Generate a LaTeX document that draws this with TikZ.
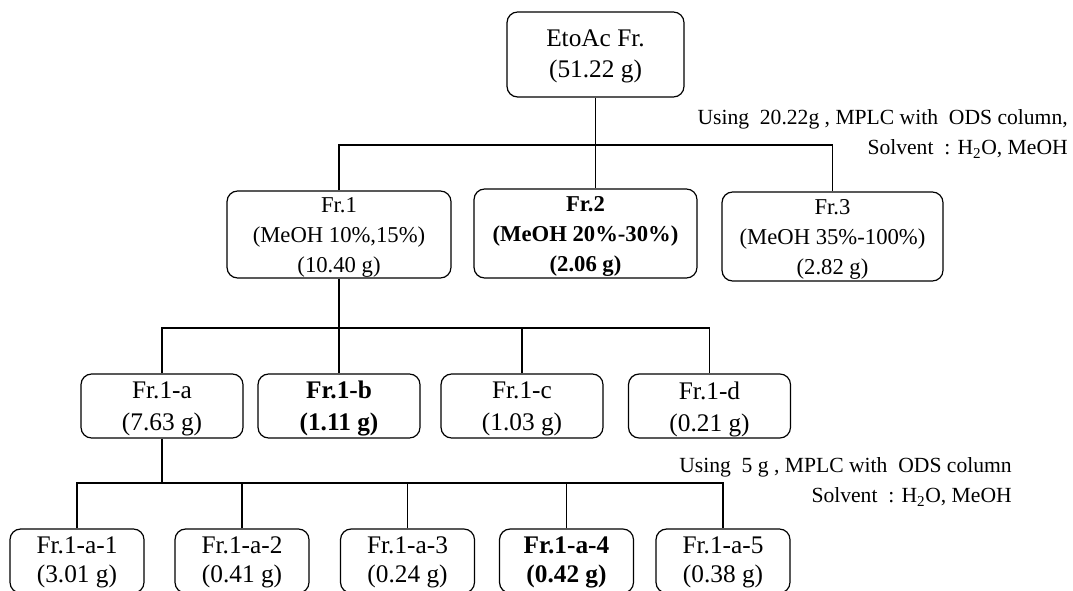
\documentclass[tikz,border=0pt]{standalone}
\usepackage{fontspec}
\setmainfont{Liberation Serif}
\begin{document}
\begin{tikzpicture}[x=0.75pt,y=-0.75pt,
  box/.style={draw, rounded corners=8pt, line width=0.9pt, inner sep=0pt},
  lvltwo/.style={box, minimum width=223*0.75pt, minimum height=88*0.75pt},
  lvlthree/.style={box, minimum width=162*0.75pt, minimum height=64*0.75pt},
  lvlfour/.style={box, minimum width=134*0.75pt, minimum height=64*0.75pt},
  txttop/.style={align=center, inner sep=0pt, font=\fontsize{19}{23.25}\selectfont},
  txttwo/.style={align=center, inner sep=0pt, font=\fontsize{17}{22.5}\selectfont},
  txtthree/.style={align=center, inner sep=0pt, font=\fontsize{19}{24}\selectfont},
  txtfour/.style={align=center, inner sep=0pt, font=\fontsize{19}{21.75}\selectfont},
  note/.style={anchor=east, inner sep=0pt, font=\fontsize{16.2}{20}\selectfont},
  conn/.style={line width=0.8pt}]
\useasboundingbox (0,0) rectangle (1073,591);
\clip (0,0) rectangle (1073,591);
\fill[white] (0,0) rectangle (1073,591);

% top
\node[box, minimum width=177*0.75pt, minimum height=85*0.75pt] (etoac) at (595.5,54.5) {};
\node[txttop] (etoacT) at (595.5,56.5) {EtoAc Fr.\\(51.22 g)};

\node[note] (noteA) at (1068,119) {Using\ \ 20.22g , MPLC with\ \ ODS column,};
\node[note] (noteB) at (1068,149) {Solvent\ \ : H\textsubscript{2}O, MeOH};

% level 2
\node[lvltwo, minimum width=224*0.75pt, minimum height=87*0.75pt] (fr1) at (339,234.5) {};
\node[txttwo] (fr1T) at (339,237) {Fr.1\\(MeOH 10\%,15\%)\\(10.40 g)};
\node[lvltwo, minimum height=89*0.75pt] (fr2) at (585.5,233.5) {};
\node[txttwo, font=\fontsize{17}{22.5}\selectfont\bfseries] (fr2T) at (585.5,236) {Fr.2\\(MeOH 20\%-30\%)\\(2.06 g)};
\node[lvltwo, minimum width=221*0.75pt, minimum height=89*0.75pt] (fr3) at (832.5,236.5) {};
\node[txttwo] (fr3T) at (832.5,239) {Fr.3\\(MeOH 35\%-100\%)\\(2.82 g)};

\coordinate (bus1) at (595.5,145);
\draw[conn] (etoac.south) -- (etoac.south |- fr2.north);
\draw[conn] (fr1.north) |- (bus1) -| (fr3.north);

% level 3
\node[lvlthree] (fr1a) at (162,406) {};
\node[txtthree] (fr1aT) at (162,409) {Fr.1-a\\(7.63 g)};
\node[lvlthree] (fr1b) at (339,406) {};
\node[txtthree, font=\fontsize{19}{24}\selectfont\bfseries] (fr1bT) at (339,409) {Fr.1-b\\(1.11 g)};
\node[lvlthree] (fr1c) at (522,406) {};
\node[txtthree] (fr1cT) at (522,409) {Fr.1-c\\(1.03 g)};
\node[lvlthree] (fr1d) at (709.5,406) {};
\node[txtthree] (fr1dT) at (709.5,409) {Fr.1-d\\(0.21 g)};

\coordinate (bus2) at (339,328);
\draw[conn] (fr1.south) -- (fr1.south |- fr1b.north);
\draw[conn] (fr1a.north) |- (bus2) -| (fr1d.north);
\draw[conn] (fr1c.north) -- (fr1c.north |- bus2);

\node[note] (noteC) at (1012,467) {Using\ \ 5 g , MPLC with\ \ ODS column};
\node[note] (noteD) at (1012,497) {Solvent\ \ : H\textsubscript{2}O, MeOH};

% level 4
\node[lvlfour] (a1) at (77,561) {};
\node[txtfour] (a1T) at (77,562.5) {Fr.1-a-1\\(3.01 g)};
\node[lvlfour] (a2) at (242,561) {};
\node[txtfour] (a2T) at (242,562.5) {Fr.1-a-2\\(0.41 g)};
\node[lvlfour] (a3) at (407.5,561) {};
\node[txtfour] (a3T) at (407.5,562.5) {Fr.1-a-3\\(0.24 g)};
\node[lvlfour] (a4) at (566.5,561) {};
\node[txtfour, font=\fontsize{19}{21.75}\selectfont\bfseries] (a4T) at (566.5,562.5) {Fr.1-a-4\\(0.42 g)};
\node[lvlfour] (a5) at (723,561) {};
\node[txtfour] (a5T) at (723,562.5) {Fr.1-a-5\\(0.38 g)};

\coordinate (bus3) at (162,483);
\draw[conn] (fr1a.south) -- (bus3);
\draw[conn] (a1.north) |- (bus3) -| (a5.north);
\draw[conn] (a2.north) -- (a2.north |- bus3);
\draw[conn] (a3.north) -- (a3.north |- bus3);
\draw[conn] (a4.north) -- (a4.north |- bus3);
\end{tikzpicture}
\end{document}
